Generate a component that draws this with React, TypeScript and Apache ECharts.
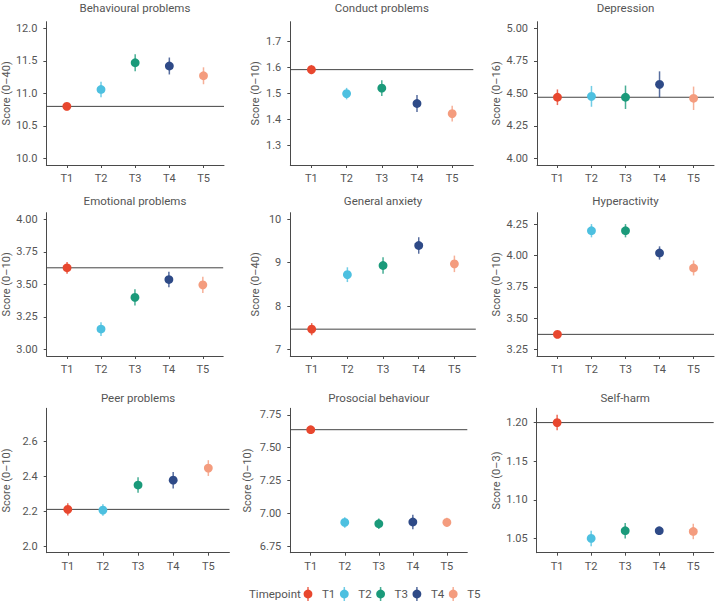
import React, { useEffect, useRef } from "react";
import * as echarts from "echarts";

const timepoints = ["T1", "T2", "T3", "T4", "T5"];
const timeColors = ["#e8472e", "#4dc0e0", "#1a9a7a", "#2e4a87", "#f49c7e"];

const behaviouralMean = [10.8, 11.06, 11.47, 11.42, 11.27];
const behaviouralErr = [0.06, 0.12, 0.13, 0.13, 0.13];
const behaviouralTicks = [10, 10.5, 11, 11.5, 12];

const conductMean = [1.591, 1.499, 1.52, 1.461, 1.422];
const conductErr = [0.018, 0.022, 0.03, 0.033, 0.03];
const conductTicks = [1.3, 1.4, 1.5, 1.6, 1.7];

const depressionMean = [4.47, 4.477, 4.47, 4.569, 4.462];
const depressionErr = [0.06, 0.08, 0.09, 0.1, 0.09];
const depressionTicks = [4.0, 4.25, 4.5, 4.75, 5.0];

const emotionalMean = [3.627, 3.157, 3.4, 3.537, 3.496];
const emotionalErr = [0.045, 0.053, 0.063, 0.06, 0.063];
const emotionalTicks = [3.0, 3.25, 3.5, 3.75, 4.0];

const anxietyMean = [7.468, 8.723, 8.934, 9.395, 8.972];
const anxietyErr = [0.14, 0.17, 0.19, 0.19, 0.19];
const anxietyTicks = [7, 8, 9, 10];

const hyperactivityMean = [3.37, 4.199, 4.199, 4.021, 3.901];
const hyperactivityErr = [0.03, 0.053, 0.053, 0.053, 0.06];
const hyperactivityTicks = [3.25, 3.5, 3.75, 4.0, 4.25];

const peerMean = [2.21, 2.206, 2.349, 2.377, 2.446];
const peerErr = [0.035, 0.033, 0.044, 0.047, 0.045];
const peerTicks = [2.0, 2.2, 2.4, 2.6];

const prosocialMean = [7.637, 6.931, 6.921, 6.934, 6.931];
const prosocialErr = [0.028, 0.04, 0.04, 0.055, 0.035];
const prosocialTicks = [6.75, 7.0, 7.25, 7.5, 7.75];

const selfHarmMean = [1.2, 1.05, 1.06, 1.06, 1.059];
const selfHarmErr = [0.01, 0.01, 0.01, 0.004, 0.01];
const selfHarmTicks = [1.05, 1.1, 1.15, 1.2];

const panelTitles = [
  "Behavioural problems",
  "Conduct problems",
  "Depression",
  "Emotional problems",
  "General anxiety",
  "Hyperactivity",
  "Peer problems",
  "Prosocial behaviour",
  "Self-harm",
];
const panelScales = [
  "Score (0–40)",
  "Score (0–10)",
  "Score (0–16)",
  "Score (0–10)",
  "Score (0–40)",
  "Score (0–10)",
  "Score (0–10)",
  "Score (0–10)",
  "Score (0–3)",
];
const panelMeans = [behaviouralMean, conductMean, depressionMean, emotionalMean, anxietyMean, hyperactivityMean, peerMean, prosocialMean, selfHarmMean];
const panelErrs = [behaviouralErr, conductErr, depressionErr, emotionalErr, anxietyErr, hyperactivityErr, peerErr, prosocialErr, selfHarmErr];
const panelTicks = [behaviouralTicks, conductTicks, depressionTicks, emotionalTicks, anxietyTicks, hyperactivityTicks, peerTicks, prosocialTicks, selfHarmTicks];
const panelDecimals = [1, 1, 2, 2, 0, 2, 1, 2, 2];
const panelRanges = [
  [9.9, 12.1],
  [1.225, 1.775],
  [3.95, 5.05],
  [2.95, 4.05],
  [6.85, 10.15],
  [3.197, 4.343],
  [1.9625, 2.7875],
  [6.7, 7.8],
  [1.0315, 1.2185],
];

// layout (pixels)
const gridBoxes = [
  [46, 21.7, 178, 143.3],
  [290.3, 21.7, 183, 143.3],
  [537, 21.7, 177, 143.3],
  [46.7, 212.7, 176.5, 143.3],
  [290.3, 212.7, 185.5, 143.3],
  [537, 212.7, 177, 143.3],
  [46.7, 408.3, 182.7, 144.4],
  [290.3, 408.3, 177, 144.4],
  [536.7, 408.3, 177, 144.4],
];
const nameGaps = [34, 29, 35.5, 34.7, 29, 35.5, 34.7, 37.6, 35.2];
const titleTops = [1, 1, 1, 194, 194, 194, 391, 391, 391];

const FONT = "Roboto";
const TXT = "#555555";
const AXIS = "#4a4a4a";
const X_MIN = 0.4;
const X_MAX = 5.6;

export default function App() {
  const ref = useRef<HTMLDivElement>(null);
  useEffect(() => {
    if (!ref.current) return;
    const chart = echarts.init(ref.current, null, { renderer: "svg" });
    const grid: any[] = [];
    const xAxis: any[] = [];
    const yAxis: any[] = [];
    const series: any[] = [];
    const title: any[] = [];
    const tpIdx = timepoints.map((_, i) => i + 1);

    for (let p = 0; p < 9; p++) {
      const [l, t, w, h] = gridBoxes[p];
      grid.push({ left: l, top: t, width: w, height: h, containLabel: false });
      title.push({
        text: panelTitles[p],
        left: l + w / 2,
        top: titleTops[p],
        textAlign: "center",
        padding: 0,
        textStyle: { fontFamily: FONT, fontSize: 11.5, fontWeight: "normal", color: TXT, lineHeight: 13 },
      });
      xAxis.push({
        type: "value",
        gridIndex: p,
        min: X_MIN,
        max: X_MAX,
        splitLine: { show: false },
        axisLine: { show: true, lineStyle: { color: AXIS, width: 1 } },
        axisTick: { show: true, length: 3, customValues: tpIdx, lineStyle: { color: AXIS } },
        axisLabel: {
          customValues: tpIdx,
          formatter: (v: number) => timepoints[Math.round(v) - 1] ?? "",
          fontFamily: FONT,
          fontSize: 11,
          color: TXT,
          margin: 8,
        },
      });
      const dec = panelDecimals[p];
      yAxis.push({
        type: "value",
        gridIndex: p,
        min: panelRanges[p][0],
        max: panelRanges[p][1],
        name: panelScales[p],
        nameLocation: "middle",
        nameRotate: 90,
        nameGap: nameGaps[p],
        nameTextStyle: { fontFamily: FONT, fontSize: 11, color: TXT },
        splitLine: { show: false },
        axisLine: { show: true, lineStyle: { color: AXIS, width: 1 } },
        axisTick: { show: true, length: 3, customValues: panelTicks[p], lineStyle: { color: AXIS } },
        axisLabel: {
          customValues: panelTicks[p],
          formatter: (v: number) => v.toFixed(dec),
          fontFamily: FONT,
          fontSize: 11,
          color: TXT,
          margin: 9,
        },
      });
      const base = panelMeans[p][0];
      series.push({
        type: "line",
        xAxisIndex: p,
        yAxisIndex: p,
        data: [
          [X_MIN, base],
          [X_MAX, base],
        ],
        showSymbol: false,
        symbol: "none",
        silent: true,
        lineStyle: { color: "#444444", width: 1 },
        z: 1,
      });
      series.push({
        type: "custom",
        xAxisIndex: p,
        yAxisIndex: p,
        data: panelMeans[p].map((m, i) => [i + 1, m, panelErrs[p][i]]),
        encode: { x: 0, y: 1 },
        z: 3,
        renderItem: (params: any, api: any) => {
          const x = api.value(0);
          const m = api.value(1);
          const e = api.value(2);
          const top = api.coord([x, m + e]);
          const bot = api.coord([x, m - e]);
          const c = api.coord([x, m]);
          const color = timeColors[params.dataIndex];
          return {
            type: "group",
            children: [
              {
                type: "line",
                shape: { x1: top[0], y1: top[1], x2: bot[0], y2: bot[1] },
                style: { stroke: color, lineWidth: 1.5, opacity: 0.8 },
              },
              {
                type: "circle",
                shape: { cx: c[0], cy: c[1], r: 4.4 },
                style: { fill: color },
              },
            ],
          };
        },
      });
    }

    // legend
    const legendY = 594;
    const legendChildren: any[] = [
      {
        type: "text",
        x: 249,
        y: legendY,
        style: { text: "Timepoint", fontFamily: FONT, fontSize: 11.5, fill: TXT, verticalAlign: "middle", align: "left" },
      },
    ];
    timepoints.forEach((tp, i) => {
      const cx = 308 + i * 36.3;
      legendChildren.push({
        type: "line",
        shape: { x1: cx, y1: legendY - 7, x2: cx, y2: legendY + 7 },
        style: { stroke: timeColors[i], lineWidth: 1.5, opacity: 0.8 },
      });
      legendChildren.push({
        type: "circle",
        shape: { cx, cy: legendY, r: 4.4 },
        style: { fill: timeColors[i] },
      });
      legendChildren.push({
        type: "text",
        x: cx + 14,
        y: legendY,
        style: { text: tp, fontFamily: FONT, fontSize: 11.5, fill: TXT, verticalAlign: "middle", align: "left" },
      });
    });

    chart.setOption({
      animation: false,
      backgroundColor: "#ffffff",
      title,
      grid,
      xAxis,
      yAxis,
      series,
      graphic: [{ type: "group", children: legendChildren }],
    });
    return () => chart.dispose();
  }, []);
  return (
    <div
      ref={ref}
      style={{ position: "absolute", left: 0, top: 0, width: 716, height: 601 }}
    />
  );
}
